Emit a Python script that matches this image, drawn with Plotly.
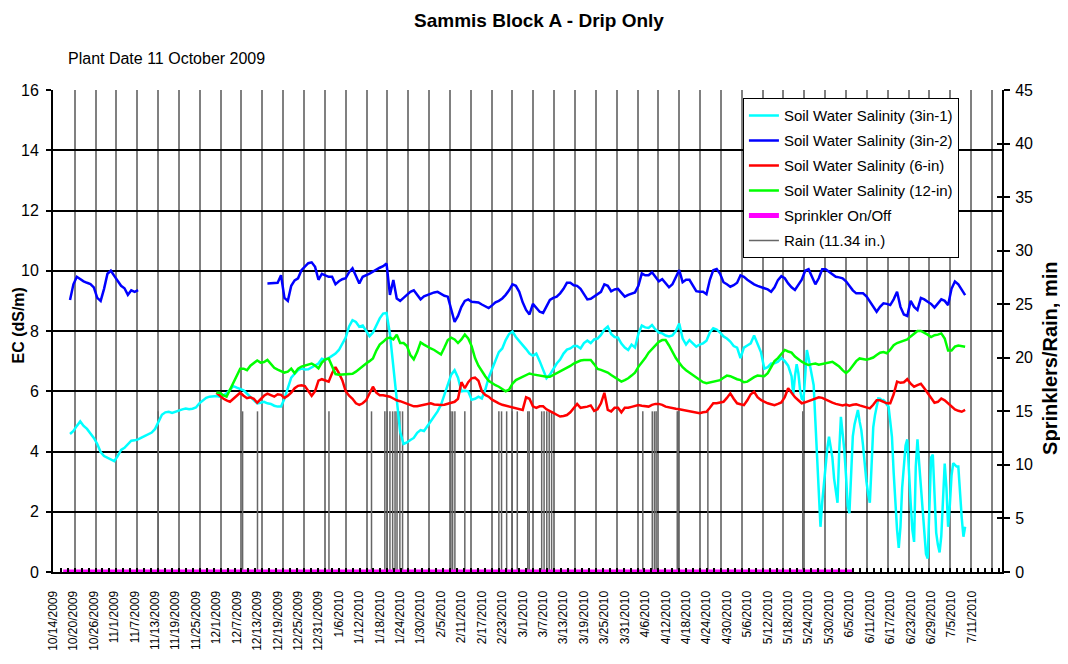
import pandas as pd
import plotly.graph_objects as go

FONT = "Liberation Sans, Arial, sans-serif"

# ---------------- data ----------------
x_tick_labels = [
    "10/14/2009", "10/20/2009", "10/26/2009", "11/1/2009", "11/7/2009", "11/13/2009",
    "11/19/2009", "11/25/2009", "12/1/2009", "12/7/2009", "12/13/2009", "12/19/2009",
    "12/25/2009", "12/31/2009", "1/6/2010", "1/12/2010", "1/18/2010", "1/24/2010",
    "1/30/2010", "2/5/2010", "2/11/2010", "2/17/2010", "2/23/2010", "3/1/2010",
    "3/7/2010", "3/13/2010", "3/19/2010", "3/25/2010", "3/31/2010", "4/6/2010",
    "4/12/2010", "4/18/2010", "4/24/2010", "4/30/2010", "5/6/2010", "5/12/2010",
    "5/18/2010", "5/24/2010", "5/30/2010", "6/5/2010", "6/11/2010", "6/17/2010",
    "6/23/2010", "6/29/2010", "7/5/2010", "7/11/2010",
]

# Soil Water Salinity (3in-1), daily readings then half-day readings
cyan_daily_start = "2009-10-19"
cyan_daily = [
    4.58, 4.68, 4.85, 5.0, 4.85, 4.75, 4.6, 4.45, 4.25, 3.98,
    3.85, 3.8, 3.74, 3.68, 3.85, 4.05, 4.12, 4.25, 4.36, 4.37,
    4.4, 4.46, 4.52, 4.58, 4.63, 4.75, 4.98, 5.22, 5.3, 5.32,
    5.28, 5.32, 5.38, 5.4, 5.43, 5.4, 5.42, 5.46, 5.6, 5.7,
    5.78, 5.82, 5.84, 5.84, 5.82, 5.86, 5.93, 6.05, 6.17, 6.12,
    6.07, 6.03, 5.92, 5.82, 5.7, 5.6, 5.62, 5.65, 5.6, 5.58,
    5.52, 5.49, 5.49, 5.75, 6.1, 6.45, 6.58, 6.7, 6.75, 6.72,
    6.73, 6.8, 6.85, 6.92, 7.08, 7.04, 7.1, 7.18, 7.25, 7.37,
    7.6, 7.78, 8.15, 8.36, 8.3, 8.14, 8.18, 8.0, 7.83, 7.95,
    8.2, 8.42, 8.58, 8.6, 7.9, 6.8, 5.6, 4.65, 4.25, 4.3,
    4.38, 4.45, 4.62, 4.71, 4.68, 4.85, 5.0, 5.18, 5.33, 5.55,
    5.9, 6.2, 6.55, 6.7, 6.45, 6.0, 6.02, 6.0, 5.72, 5.75,
    5.82, 5.76, 6.05, 6.45, 6.75, 7.05, 7.3, 7.42, 7.7, 7.9,
    7.98, 7.8, 7.65, 7.53, 7.4, 7.25, 7.18, 7.25, 7.0, 6.7,
    6.43, 6.55, 6.75, 6.92, 7.05, 7.25, 7.38, 7.42, 7.5, 7.5,
    7.42, 7.6, 7.68, 7.6, 7.72, 7.75, 7.87, 8.05, 8.15, 7.9,
    7.8, 7.78, 7.58, 7.45, 7.37, 7.55, 7.45, 7.9, 8.18, 8.12,
    8.1, 8.2, 8.05, 7.95, 7.92, 7.85, 7.82, 7.85, 8.0, 8.25,
    7.75, 7.55, 7.7, 7.6, 7.48, 7.55, 7.59, 7.68, 7.95, 8.09,
    8.05, 7.95, 7.82, 7.75, 7.65, 7.5, 7.45, 7.1, 7.45, 7.52,
    7.59, 7.85, 7.6, 7.3, 6.75, 6.8, 6.92, 6.93, 6.98, 7.1,
    7.0, 6.85, 6.5,
]
cyan_half_start = "2010-05-19 12:00"
cyan_halfday = [
    5.9, 6.5, 6.9, 6.6, 6.04, 5.75, 5.71, 6.5, 7.37, 7.1,
    6.81, 6.5, 6.2, 5.0, 3.8, 2.4, 1.5, 2.3, 3.0, 3.6,
    4.1, 4.49, 4.2, 3.8, 3.1, 2.6, 2.3, 4.0, 5.15, 4.6,
    4.05, 3.2, 2.2, 1.95, 3.4, 4.5, 4.9, 5.2, 5.38, 5.0,
    4.71, 4.2, 3.5, 3.0, 2.6, 2.3, 3.5, 4.8, 5.2, 5.5,
    5.76, 5.75, 5.7, 5.71, 5.65, 5.55, 5.49, 5.0, 4.49, 3.3,
    2.28, 1.4, 0.8, 1.5, 2.8, 3.6, 4.2, 4.4, 3.2, 2.3,
    1.4, 1.0, 3.5, 4.4, 3.6, 2.8, 2.2, 1.3, 0.6, 0.45,
    2.2, 3.8, 3.9, 2.4, 1.3, 0.9, 0.65, 1.2, 2.5, 3.6,
    2.8, 1.5, 2.2, 3.2, 3.61, 3.55, 3.5, 3.5, 2.5, 1.8,
    1.17, 1.5,
]

# Soil Water Salinity (3in-2), two logged segments of daily readings
blue_a_start = "2009-10-19"
blue_a = [
    9.03, 9.55, 9.8, 9.72, 9.65, 9.6, 9.56, 9.45, 9.1, 9.0,
    9.4, 9.9, 10.0, 9.83, 9.65, 9.5, 9.42, 9.2, 9.35, 9.3, 9.36,
]
blue_b_start = "2009-12-16"
blue_b = [
    9.58, 9.58, 9.58, 9.6, 9.85, 9.1, 9.0, 9.5, 9.68, 9.75,
    10.02, 10.15, 10.25, 10.28, 10.13, 9.7, 9.9, 9.85, 9.8, 9.8,
    9.55, 9.65, 9.72, 9.75, 9.95, 10.08, 9.8, 9.58, 9.8, 9.84,
    9.9, 9.97, 10.05, 10.1, 10.15, 10.24, 9.2, 9.69, 9.08, 9.0,
    9.1, 9.2, 9.3, 9.35, 9.2, 9.05, 9.15, 9.2, 9.25, 9.28,
    9.3, 9.22, 9.17, 9.14, 8.7, 8.3, 8.5, 8.8, 9.0, 9.05,
    8.97, 8.97, 8.95, 8.88, 8.82, 8.76, 8.85, 8.95, 9.0, 9.08,
    9.2, 9.35, 9.55, 9.5, 9.3, 8.95, 8.7, 8.55, 8.9, 8.75,
    8.64, 8.6, 8.8, 9.03, 9.1, 9.14, 9.25, 9.4, 9.6, 9.6,
    9.52, 9.5, 9.4, 9.2, 9.05, 9.07, 9.15, 9.22, 9.3, 9.55,
    9.5, 9.32, 9.38, 9.4, 9.28, 9.14, 9.2, 9.25, 9.28, 9.5,
    9.91, 9.85, 9.85, 9.95, 9.8, 9.65, 9.72, 9.6, 9.45, 9.55,
    9.8, 10.02, 9.62, 9.7, 9.7, 9.5, 9.32, 9.3, 9.3, 9.22,
    9.7, 10.02, 10.06, 9.9, 9.62, 9.55, 9.47, 9.52, 9.6, 9.85,
    9.8, 9.7, 9.62, 9.55, 9.5, 9.45, 9.42, 9.38, 9.3, 9.45,
    9.69, 9.82, 9.75, 9.58, 9.45, 9.36, 9.55, 9.7, 10.0, 10.05,
    9.8, 9.55, 9.75, 10.05, 10.05, 9.97, 9.9, 9.8, 9.78, 9.75,
    9.65, 9.48, 9.35, 9.25, 9.25, 9.25, 9.15, 8.98, 8.8, 8.64,
    8.8, 8.92, 8.9, 8.86, 9.05, 9.3, 8.8, 8.55, 8.5, 9.0,
    8.8, 8.7, 9.1, 9.05, 8.97, 8.9, 8.78, 8.9, 9.05, 9.0,
    8.86, 9.4, 9.64, 9.55, 9.35, 9.19,
]

# Soil Water Salinity (6-in), daily readings
red_start = "2009-12-01"
red = [
    5.95, 5.85, 5.76, 5.7, 5.65, 5.75, 5.85, 5.95, 5.85, 5.77,
    5.8, 5.75, 5.62, 5.75, 5.85, 5.92, 5.88, 5.82, 5.9, 5.88,
    5.78, 5.85, 5.95, 6.1, 6.18, 6.2, 6.17, 6.0, 5.85, 6.0,
    6.35, 6.4, 6.37, 6.32, 6.6, 6.8, 6.6, 6.37, 6.0, 5.85,
    5.75, 5.6, 5.55, 5.6, 5.7, 5.95, 6.15, 5.95, 5.87, 5.87,
    5.85, 5.82, 5.76, 5.7, 5.67, 5.63, 5.58, 5.54, 5.5, 5.5,
    5.53, 5.56, 5.58, 5.6, 5.56, 5.54, 5.54, 5.55, 5.58, 5.62,
    5.65, 5.75, 6.3, 6.1, 6.3, 6.43, 6.45, 6.35, 6.0, 5.88,
    5.82, 5.72, 5.65, 5.6, 5.55, 5.52, 5.49, 5.45, 5.43, 5.4,
    5.38, 5.8, 5.75, 5.5, 5.45, 5.5, 5.5, 5.4, 5.35, 5.28,
    5.22, 5.16, 5.18, 5.21, 5.3, 5.43, 5.58, 5.45, 5.46, 5.49,
    5.53, 5.35, 5.4, 5.6, 5.95, 5.38, 5.33, 5.45, 5.45, 5.3,
    5.45, 5.45, 5.48, 5.5, 5.54, 5.52, 5.5, 5.49, 5.55, 5.58,
    5.58, 5.55, 5.49, 5.46, 5.44, 5.42, 5.4, 5.38, 5.36, 5.33,
    5.3, 5.28, 5.27, 5.3, 5.32, 5.45, 5.6, 5.6, 5.63, 5.65,
    5.78, 5.93, 5.75, 5.6, 5.57, 5.54, 5.7, 5.9, 5.98, 5.8,
    5.71, 5.65, 5.6, 5.57, 5.54, 5.58, 5.63, 5.8, 6.1, 5.95,
    5.8, 5.7, 5.6, 5.63, 5.67, 5.71, 5.75, 5.8, 5.78, 5.72,
    5.66, 5.62, 5.58, 5.55, 5.53, 5.56, 5.52, 5.55, 5.57, 5.53,
    5.5, 5.46, 5.43, 5.55, 5.7, 5.7, 5.65, 5.6, 5.6, 5.9,
    6.32, 6.28, 6.3, 6.4, 6.25, 6.15, 6.2, 6.25, 6.1, 5.93,
    5.8, 5.62, 5.65, 5.76, 5.7, 5.6, 5.5, 5.4, 5.35, 5.32,
    5.38,
]

# Soil Water Salinity (12-in), daily readings
green_start = "2009-12-01"
green = [
    5.95, 5.95, 5.87, 5.82, 6.05, 6.3, 6.55, 6.75, 6.75, 6.7,
    6.85, 6.95, 7.02, 6.95, 6.97, 7.04, 6.9, 6.78, 6.72, 6.68,
    6.62, 6.65, 6.75, 6.6, 6.75, 6.82, 6.86, 6.9, 6.92, 6.85,
    6.76, 6.95, 7.06, 7.09, 6.8, 6.57, 6.55, 6.56, 6.57, 6.56,
    6.58, 6.65, 6.75, 6.85, 6.92, 7.0, 7.09, 7.35, 7.55, 7.64,
    7.75, 7.78, 7.72, 7.88, 7.6, 7.6, 7.5, 7.2, 7.06, 7.3,
    7.62, 7.55, 7.48, 7.42, 7.37, 7.3, 7.22, 7.45, 7.7, 7.78,
    7.72, 7.6, 7.72, 7.88, 7.75, 7.5, 7.1, 6.85, 6.65, 6.5,
    6.35, 6.27, 6.2, 6.15, 6.07, 6.0, 6.05, 6.25, 6.37, 6.43,
    6.48, 6.53, 6.59, 6.56, 6.54, 6.5, 6.48, 6.48, 6.48, 6.54,
    6.59, 6.65, 6.7, 6.76, 6.84, 6.92, 6.98, 7.02, 7.04, 7.04,
    7.04, 6.9, 6.74, 6.71, 6.66, 6.62, 6.54, 6.47, 6.38, 6.32,
    6.37, 6.43, 6.52, 6.62, 6.81, 6.95, 7.1, 7.28, 7.4, 7.53,
    7.64, 7.7, 7.7, 7.52, 7.32, 7.1, 6.95, 6.8, 6.7, 6.62,
    6.54, 6.45, 6.37, 6.3, 6.27, 6.3, 6.32, 6.35, 6.37, 6.45,
    6.52, 6.5, 6.44, 6.4, 6.37, 6.3, 6.32, 6.4, 6.47, 6.52,
    6.52, 6.5, 6.6, 6.8, 7.0, 7.1, 7.25, 7.37, 7.32, 7.28,
    7.15, 7.05, 6.98, 6.92, 6.87, 6.9, 6.92, 6.88, 6.9, 6.92,
    6.95, 6.98, 6.9, 6.82, 6.7, 6.6, 6.7, 6.87, 7.0, 7.09,
    7.08, 7.05, 7.08, 7.12, 7.2, 7.28, 7.3, 7.26, 7.38, 7.53,
    7.6, 7.64, 7.68, 7.72, 7.82, 7.9, 8.0, 8.0, 7.95, 7.88,
    7.8, 7.86, 7.88, 7.92, 7.75, 7.35, 7.35, 7.48, 7.52, 7.5,
    7.48,
]

# Sprinkler On/Off (minutes) - never switched on
sprinkler_dates = ["2009-10-17", "2010-06-06"]
sprinkler_minutes = [0, 0]

# Rain events (bar height on the right axis)
rain_times = [
    "2009-11-13 22:00", "2009-12-08 17:00", "2009-12-13 02:00", "2010-01-03 02:00",
    "2010-01-15 14:00", "2010-01-19 12:00", "2010-01-20 05:00", "2010-01-21 00:00",
    "2010-01-21 19:00", "2010-01-22 12:00", "2010-01-23 02:00", "2010-01-23 22:00",
    "2010-01-24 17:00", "2010-02-07 22:00", "2010-02-08 10:00", "2010-02-09 02:00",
    "2010-02-12 00:00", "2010-02-22 00:00", "2010-02-22 19:00", "2010-02-24 07:00",
    "2010-02-25 22:00", "2010-02-27 10:00", "2010-03-02 12:00", "2010-03-02 22:00",
    "2010-03-06 14:00", "2010-03-07 07:00", "2010-03-08 02:00", "2010-03-08 19:00",
    "2010-03-09 12:00", "2010-04-05 07:00", "2010-04-08 02:00", "2010-04-08 17:00",
    "2010-04-09 05:00", "2010-04-15 10:00", "2010-04-15 17:00", "2010-04-24 10:00",
    "2010-05-22 07:00",
]
rain_minutes = [
    15, 15, 15, 15, 15, 15, 15, 15, 15, 15, 15, 15, 15, 15, 15, 15, 15, 15, 15,
    15, 15, 15, 15, 15, 15, 15, 15, 15, 15, 15, 15, 15, 15, 15, 15, 15, 15,
]

x_range = ["2009-10-14", "2010-07-19 20:00"]

# ---------------- build ----------------
def dated(start, values, freq):
    return list(pd.date_range(start, periods=len(values), freq=freq)), list(values)

cx1, cy1 = dated(cyan_daily_start, cyan_daily, "D")
cx2, cy2 = dated(cyan_half_start, cyan_halfday, "12h")
bxa, bya = dated(blue_a_start, blue_a, "D")
bxb, byb = dated(blue_b_start, blue_b, "D")
rx, ry = dated(red_start, red, "D")
gx, gy = dated(green_start, green, "D")

blue_x = bxa + [bxa[-1] + pd.Timedelta(days=1)] + bxb
blue_y = bya + [None] + byb

rain_x, rain_y = [], []
for t, v in zip(rain_times, rain_minutes):
    rain_x += [t, t, None]
    rain_y += [0, v, None]

tick_vals = list(pd.to_datetime(x_tick_labels, format="%m/%d/%Y"))

fig = go.Figure()
# EC traces (left axis, overlay subplot drawn above the rain bars)
fig.add_trace(go.Scatter(x=cx1 + cx2, y=cy1 + cy2, mode="lines",
                         name="Soil Water Salinity (3in-1)",
                         line=dict(color="#00FFFF", width=2.5), yaxis="y2",
                         legendgroup="g1"))
fig.add_trace(go.Scatter(x=blue_x, y=blue_y, mode="lines", connectgaps=False,
                         name="Soil Water Salinity (3in-2)",
                         line=dict(color="#0000FF", width=2.5), yaxis="y2",
                         legendgroup="g2"))
fig.add_trace(go.Scatter(x=rx, y=ry, mode="lines", name="Soil Water Salinity (6-in)",
                         line=dict(color="#FF0000", width=2.5), yaxis="y2",
                         legendgroup="g3"))
fig.add_trace(go.Scatter(x=gx, y=gy, mode="lines", name="Soil Water Salinity (12-in)",
                         line=dict(color="#00FF00", width=2.5), yaxis="y2",
                         legendgroup="g4"))
# right-axis traces
fig.add_trace(go.Scatter(x=sprinkler_dates, y=sprinkler_minutes, mode="lines",
                         name="Sprinkler On/Off", line=dict(color="#FF00FF", width=5),
                         xaxis="x2", yaxis="y3", legendgroup="g5"))
fig.add_trace(go.Scatter(x=rain_x, y=rain_y, mode="lines", name="Rain (11.34 in.)",
                         line=dict(color="#666666", width=1.5), xaxis="x", yaxis="y",
                         legendgroup="g6", connectgaps=False))

DAY_MS = 86400000
grid_tick0 = "2009-10-14 06:00"

# the page body adds an 8px offset, so the figure is 8px smaller than the window
W, H = 1060, 656
fig.update_layout(
    width=W, height=H,
    margin=dict(l=45, r=66, t=82, b=92, autoexpand=False),
    paper_bgcolor="white", plot_bgcolor="white",
    font=dict(family=FONT, color="black", size=15),
    title=dict(text="<b>Sammis Block A - Drip Only</b>", x=531 / W, xref="container",
               xanchor="center", y=1 - 12 / H, yref="container", yanchor="middle",
               automargin=False,
               font=dict(size=19, family=FONT, color="black")),
    showlegend=True,
    legend=dict(x=0.727, y=0.983, xanchor="left", yanchor="top",
                bgcolor="white", bordercolor="black", borderwidth=1,
                font=dict(size=15, family=FONT), tracegroupgap=2.5,
                traceorder="grouped"),
    xaxis=dict(
        type="date", range=x_range, automargin=False,
        tickmode="array", tickvals=tick_vals, ticktext=x_tick_labels,
        tickangle=-90, tickfont=dict(size=12), ticks="", ticklabelstandoff=12,
        showgrid=False, zeroline=False,
        showline=True, linecolor="black", linewidth=2,
        minor=dict(tickmode="linear", tick0=grid_tick0, dtick=6.125 * DAY_MS,
                   showgrid=True, gridcolor="#808080", gridwidth=2, ticks=""),
    ),
    xaxis2=dict(
        type="date", range=x_range, overlaying="x", anchor="y", side="bottom",
        automargin=False,
        tickmode="linear", tick0=grid_tick0, dtick=6.125 / 3 * DAY_MS,
        ticks="inside", ticklen=4, tickwidth=1.5, tickcolor="black",
        showticklabels=False, showgrid=False, zeroline=False, showline=False,
    ),
    yaxis=dict(
        range=[0, 45], dtick=5, side="right", anchor="x", automargin=False,
        ticks="outside", ticklen=6, tickwidth=1.5, tickcolor="black",
        tickfont=dict(size=16), ticklabelstandoff=2, showgrid=False, zeroline=False,
        showline=True, linecolor="black", linewidth=2,
    ),
    yaxis2=dict(
        range=[0, 16], dtick=2, side="left", overlaying="y", anchor="x",
        automargin=False,
        ticks="outside", ticklen=5, tickwidth=1.5, tickcolor="black",
        tickfont=dict(size=16), ticklabelstandoff=4,
        showgrid=True, gridcolor="black", gridwidth=2,
        zeroline=False, showline=True, linecolor="black", linewidth=2,
    ),
    yaxis3=dict(
        range=[0, 45], dtick=5, side="right", overlaying="y", anchor="x2",
        automargin=False,
        ticks="inside", ticklen=5, tickwidth=1.5, tickcolor="black",
        showticklabels=False, showgrid=False, zeroline=False, showline=False,
    ),
    annotations=[
        dict(text="Plant Date 11 October 2009", xref="paper", yref="paper",
             x=0.0134, y=1.066, xanchor="left", yanchor="middle", showarrow=False,
             font=dict(size=16, family=FONT)),
        dict(text="<b>EC (dS/m)</b>", xref="paper", yref="paper",
             x=-0.036, y=0.511, xanchor="center", yanchor="middle", showarrow=False,
             textangle=-90, font=dict(size=16, family=FONT)),
        dict(text="<b>Sprinklers/Rain, min</b>", xref="paper", yref="paper",
             x=1.0505, y=0.444, xanchor="center", yanchor="middle", showarrow=False,
             textangle=-90, font=dict(size=20, family=FONT)),
    ],
)

fig.write_html("out.html")
